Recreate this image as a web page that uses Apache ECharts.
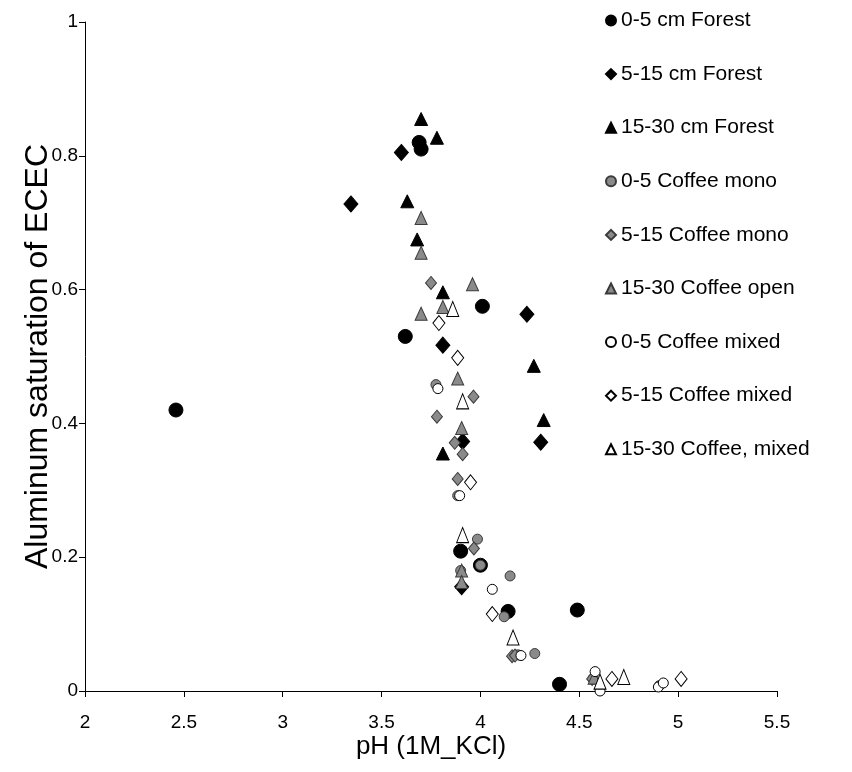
<!DOCTYPE html>
<html>
<head>
<meta charset="utf-8">
<script src="https://cdn.jsdelivr.net/npm/echarts@6/dist/echarts.min.js"></script>
<style>
  html, body { margin: 0; padding: 0; background: #fff; }
  #chart { width: 852px; height: 772px; }
</style>
</head>
<body>
<div id="chart"></div>
<script>
// Aluminum saturation of ECEC versus soil pH (1M KCl), by depth and land use.
// Each array holds [pH, Al saturation] pairs.
const forest0_5 = [[2.46, 0.42], [3.69, 0.82], [3.70, 0.81], [4.01, 0.575], [3.62, 0.53],
  [3.90, 0.209], [4.00, 0.188], [4.14, 0.119], [4.49, 0.121], [4.40, 0.010]];
const forest5_15 = [[3.60, 0.805], [3.345, 0.728], [3.81, 0.517], [4.235, 0.563], [3.91, 0.373],
  [4.305, 0.372], [3.905, 0.156]];
const forest15_30 = [[3.70, 0.855], [3.78, 0.827], [3.63, 0.732], [3.68, 0.675], [3.81, 0.596],
  [4.27, 0.486], [4.32, 0.405], [3.81, 0.355]];
const coffeeMono0_5 = [[3.775, 0.458], [3.885, 0.292], [3.985, 0.227], [4.00, 0.188], [4.15, 0.172],
  [3.90, 0.18], [4.12, 0.111], [4.19, 0.054], [4.275, 0.056], [4.57, 0.019], [4.905, 0.008]];
const coffeeMono5_15 = [[3.75, 0.61], [3.965, 0.44], [3.78, 0.41], [3.87, 0.371], [3.91, 0.354],
  [3.885, 0.317], [3.967, 0.213], [4.16, 0.052], [4.175, 0.053], [4.565, 0.018]];
const coffeeOpen15_30 = [[3.70, 0.707], [3.70, 0.655], [3.96, 0.608], [3.81, 0.574], [3.70, 0.564],
  [3.885, 0.467], [3.905, 0.393], [3.905, 0.18], [3.905, 0.163], [4.575, 0.02]];
const coffeeMixed0_5 = [[3.785, 0.452], [3.895, 0.292], [4.06, 0.152], [4.205, 0.053], [4.58, 0.029],
  [4.605, 0.0], [4.90, 0.006], [4.925, 0.012]];
const coffeeMixed5_15 = [[3.79, 0.55], [3.885, 0.498], [3.95, 0.312], [4.06, 0.115], [4.665, 0.018],
  [5.015, 0.018]];
const coffeeMixed15_30 = [[3.86, 0.571], [3.91, 0.433], [3.91, 0.233], [4.165, 0.08], [4.605, 0.014],
  [4.725, 0.021]];

const seriesNames = ['0-5 cm Forest', '5-15 cm Forest', '15-30 cm Forest',
  '0-5 Coffee mono', '5-15 Coffee mono', '15-30 Coffee open',
  '0-5 Coffee mixed', '5-15 Coffee mixed', '15-30 Coffee, mixed'];

const FONT = '"Liberation Sans", Arial, sans-serif';
const BLACK = '#000000';
const GREY = '#8a8a8a';
const GREY_EDGE = '#3a3a3a';
const WHITE = '#ffffff';

function scatter(name, data, symbol, size, fill, edge) {
  return {
    name: name,
    type: 'scatter',
    data: data,
    symbol: symbol,
    symbolSize: size,
    itemStyle: { color: fill, borderColor: edge, borderWidth: 1, opacity: 1 },
    emphasis: { disabled: true }
  };
}

const chart = echarts.init(document.getElementById('chart'), null, { renderer: 'canvas' });
chart.setOption({
  animation: false,
  backgroundColor: '#ffffff',
  grid: { left: 85, right: 75, top: 22, bottom: 81, containLabel: false },
  xAxis: {
    type: 'value', min: 2, max: 5.5, interval: 0.5,
    name: 'pH (1M_KCl)', nameLocation: 'middle', nameGap: 43, nameMoveOverlap: false,
    nameTextStyle: { fontFamily: FONT, fontSize: 26, color: BLACK, verticalAlign: 'top' },
    axisLine: { onZero: false, lineStyle: { color: '#000', width: 1 } },
    axisTick: { show: true, inside: false, length: 6, lineStyle: { color: '#000' } },
    axisLabel: { fontFamily: FONT, fontSize: 19, color: BLACK, margin: 22 },
    splitLine: { show: false }
  },
  yAxis: {
    type: 'value', min: 0, max: 1, interval: 0.2,
    name: 'Aluminum saturation of ECEC', nameLocation: 'middle', nameGap: 31, nameMoveOverlap: false,
    nameTextStyle: { fontFamily: FONT, fontSize: 32, color: BLACK, verticalAlign: 'bottom' },
    axisLine: { show: true, lineStyle: { color: '#000', width: 1 } },
    axisTick: { show: true, inside: false, length: 6, lineStyle: { color: '#000' } },
    axisLabel: { fontFamily: FONT, fontSize: 19, color: BLACK, margin: 7 },
    splitLine: { show: false }
  },
  legend: {
    orient: 'vertical', left: 600, top: 5,
    itemWidth: 10, itemHeight: 10, itemGap: 32.6,
    data: seriesNames,
    textStyle: { fontFamily: FONT, fontSize: 21, color: BLACK, lineHeight: 21 },
    selectedMode: false
  },
  series: [
    scatter(seriesNames[0], forest0_5, 'circle', 14, BLACK, BLACK),
    scatter(seriesNames[1], forest5_15, 'diamond', [14, 16], BLACK, BLACK),
    scatter(seriesNames[2], forest15_30, 'triangle', [13, 13], BLACK, BLACK),
    scatter(seriesNames[3], coffeeMono0_5, 'circle', 10, GREY, GREY_EDGE),
    scatter(seriesNames[4], coffeeMono5_15, 'diamond', [11, 13], GREY, GREY_EDGE),
    scatter(seriesNames[5], coffeeOpen15_30, 'triangle', [12, 13], GREY, GREY_EDGE),
    scatter(seriesNames[6], coffeeMixed0_5, 'circle', 10, WHITE, BLACK),
    scatter(seriesNames[7], coffeeMixed5_15, 'diamond', [12, 15], WHITE, BLACK),
    scatter(seriesNames[8], coffeeMixed15_30, 'triangle', [12, 15], WHITE, BLACK)
  ]
});
</script>
</body>
</html>
